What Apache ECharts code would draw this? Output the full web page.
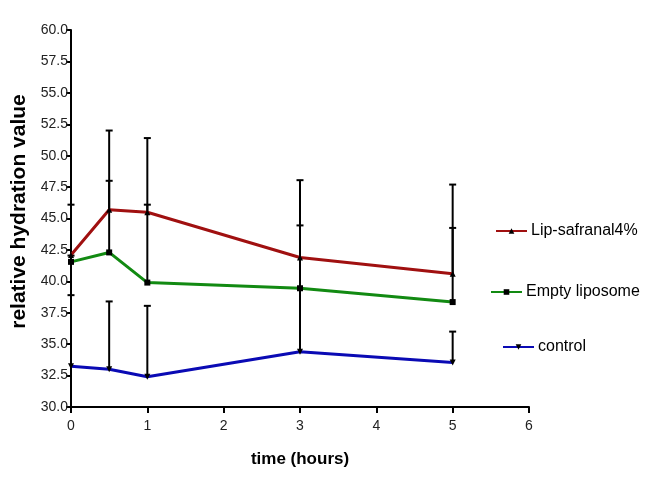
<!DOCTYPE html>
<html><head><meta charset="utf-8">
<script src="https://cdn.jsdelivr.net/npm/echarts@6/dist/echarts.min.js"></script>
<style>html,body{margin:0;padding:0;background:#fff}#c{width:659px;height:493px}</style>
</head><body><div id="c"></div>
<script>
const times = [0, 0.5, 1, 3, 5];
const lipSafranal = [42.1, 45.7, 45.5, 41.9, 40.6];
const lipSafranalErr = [4.0, 6.3, 5.9, 6.15, 7.1];
const emptyLiposome = [41.55, 42.3, 39.9, 39.45, 38.35];
const emptyLiposomeErr = [0.5, 5.7, 6.2, 5.0, 5.9];
const control = [33.25, 33.0, 32.4, 34.4, 33.55];
const controlErr = [5.65, 5.4, 5.65, 5.05, 2.45];
const yTicks = [30, 32.5, 35, 37.5, 40, 42.5, 45, 47.5, 50, 52.5, 55, 57.5, 60];

const FONT = 'Liberation Sans, Arial, sans-serif';
const seriesDefs = [
  {name: 'Lip-safranal4%', vals: lipSafranal, err: lipSafranalErr, color: '#a01010', symbol: 'triangle'},
  {name: 'Empty liposome', vals: emptyLiposome, err: emptyLiposomeErr, color: '#128a12', symbol: 'rect'},
  {name: 'control', vals: control, err: controlErr, color: '#0a0ab4', symbol: 'path://M0,0 L10,0 L5,10 Z'}
];

const series = [];
seriesDefs.forEach(s => {
  series.push({
    type: 'custom', name: s.name + '_err', silent: true, z: 3,
    data: times.map((t, i) => [t, s.vals[i], s.vals[i] + s.err[i]]),
    renderItem: (params, api) => {
      const p0 = api.coord([api.value(0), api.value(1)]);
      const p1 = api.coord([api.value(0), api.value(2)]);
      const st = {stroke: '#000', lineWidth: 2};
      return {type: 'group', children: [
        {type: 'line', shape: {x1: p0[0], y1: p0[1], x2: p1[0], y2: p1[1]}, style: st},
        {type: 'line', shape: {x1: p1[0] - 3.5, y1: p1[1], x2: p1[0] + 3.5, y2: p1[1]}, style: st}
      ]};
    }
  });
});
seriesDefs.forEach(s => {
  series.push({
    type: 'line', name: s.name, z: 4,
    data: times.map((t, i) => [t, s.vals[i]]),
    symbol: s.symbol, symbolSize: 6, showSymbol: true,
    lineStyle: {color: s.color, width: 3},
    itemStyle: {color: '#000', borderWidth: 0},
    color: s.color
  });
});

const legendPos = [
  {name: 'Lip-safranal4%', left: 490, top: 218},
  {name: 'Empty liposome', left: 485, top: 279},
  {name: 'control', left: 497, top: 334}
];
const legends = legendPos.map(l => ({
  data: [l.name], left: l.left, top: l.top, orient: 'vertical',
  itemWidth: 31, itemHeight: 7, itemGap: 4, selectedMode: false,
  textStyle: {fontFamily: FONT, fontSize: 16, color: '#000', padding: [0, 0, 0, -1]}
}));

const chart = echarts.init(document.getElementById('c'));
chart.setOption({
  animation: false,
  backgroundColor: '#fff',
  grid: {left: 71, right: 130, top: 30, bottom: 86, containLabel: false, outerBoundsMode: 'none'},
  legend: legends,
  xAxis: {
    type: 'value', min: 0, max: 6, interval: 1,
    name: 'time (hours)', nameLocation: 'middle', nameGap: 44,
    nameTextStyle: {fontFamily: FONT, fontSize: 17, fontWeight: 'bold', color: '#000'},
    axisLine: {lineStyle: {color: '#000', width: 2}},
    axisTick: {show: true, length: 6, lineStyle: {color: '#000', width: 2}},
    axisLabel: {fontFamily: FONT, fontSize: 14, color: '#222', margin: 12},
    splitLine: {show: false}
  },
  yAxis: {
    type: 'value', min: 30, max: 60, interval: 2.5,
    name: 'relative hydration value', nameLocation: 'middle', nameGap: 37,
    nameTextStyle: {fontFamily: FONT, fontSize: 21, fontWeight: 'bold', color: '#000', padding: [0, 0, 0, 14]},
    axisLine: {show: true, lineStyle: {color: '#000', width: 2}},
    axisTick: {show: true, length: 5, lineStyle: {color: '#000', width: 2}},
    axisLabel: {fontFamily: FONT, fontSize: 14, color: '#222', margin: 3,
      formatter: v => (yTicks.indexOf(v) >= 0 ? v.toFixed(1) : '')},
    splitLine: {show: false}
  },
  series: series
});
</script></body></html>
